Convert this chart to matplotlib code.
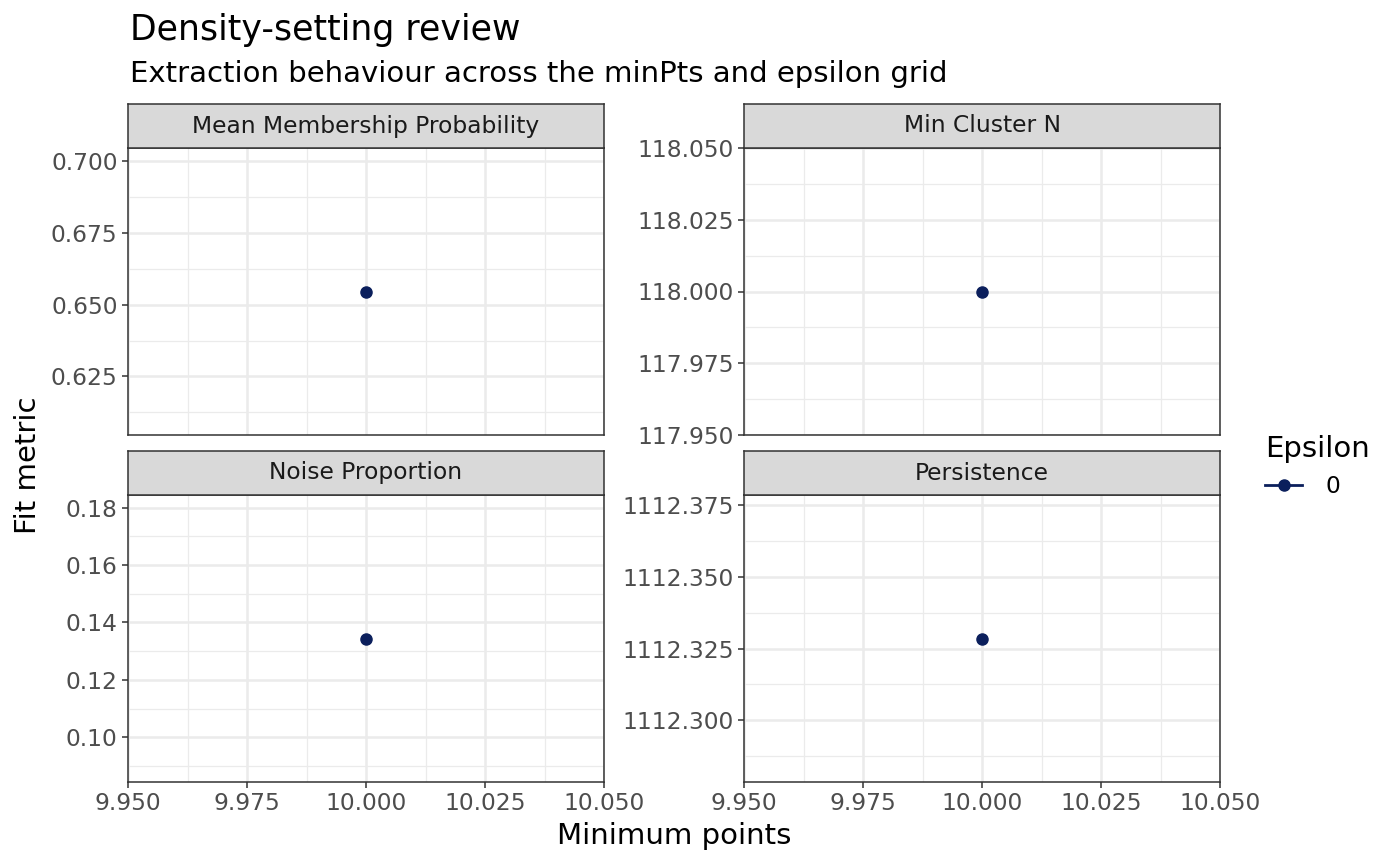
import numpy as np
import matplotlib.pyplot as plt
from matplotlib.lines import Line2D

# data
metrics = ["Mean Membership Probability", "Min Cluster N", "Noise Proportion", "Persistence"]
min_pts = [10.0, 10.0, 10.0, 10.0]
values = [0.6546, 118.0, 0.1344, 1112.3285]
epsilon = ["0"]
y_ticks = [
    [0.625, 0.650, 0.675, 0.700],
    [117.950, 117.975, 118.000, 118.025, 118.050],
    [0.10, 0.12, 0.14, 0.16, 0.18],
    [1112.300, 1112.325, 1112.350, 1112.375],
]
y_fmt = ["%.3f", "%.3f", "%.2f", "%.3f"]
x_ticks = [9.950, 9.975, 10.000, 10.025, 10.050]

W, H = 1400, 866
plt.rcParams['font.family'] = ['DejaVu Sans']
fig = plt.figure(figsize=(W / 100, H / 100), dpi=100)

point_col = "#0b1f5c"
grid_col = "#ebebeb"
border_col = "#333333"
tick_fs = 16.8

def px(x0, y0, x1, y1):
    return [x0 / W, 1 - y1 / H, (x1 - x0) / W, (y1 - y0) / H]

cols = [(128, 604), (744, 1220)]
rows = [(104, 148, 435), (451, 495, 782)]

for i, m in enumerate(metrics):
    r, c = divmod(i, 2)
    sx0, sx1 = cols[c]
    st, pt, pb = rows[r]
    ax = fig.add_axes(px(sx0, pt, sx1, pb))
    v = values[i]
    yt = y_ticks[i]
    ax.set_yticks(yt)
    ax.set_yticklabels([y_fmt[i] % t for t in yt])
    step = yt[1] - yt[0]
    ax.set_yticks(np.arange(yt[0] - step / 2, yt[-1] + step, step), minor=True)
    ax.set_xticks(x_ticks)
    ax.set_xticks(np.arange(9.9625, 10.05, 0.025), minor=True)
    ax.plot(min_pts[i], v, "o", color=point_col, ms=8, zorder=3, clip_on=False)
    ax.set_xlim(9.95, 10.05)
    ax.set_ylim(v - 0.05, v + 0.05)
    ax.grid(True, which="major", color=grid_col, lw=1.8)
    ax.grid(True, which="minor", color=grid_col, lw=0.9)
    ax.set_axisbelow(True)
    ax.tick_params(which="minor", length=0)
    ax.tick_params(which="major", length=4.5, color=border_col, width=1.1,
                   labelsize=tick_fs, labelcolor="#4d4d4d", pad=3)
    if r == 0:
        ax.tick_params(axis="x", which="major", length=0, labelbottom=False)
    else:
        ax.set_xticklabels(["%.3f" % t for t in x_ticks])
    for s in ax.spines.values():
        s.set_color(border_col)
        s.set_linewidth(1.1)

    sax = fig.add_axes(px(sx0, st, sx1, pt))
    sax.set_facecolor("#d9d9d9")
    sax.set_xticks([])
    sax.set_yticks([])
    for s in sax.spines.values():
        s.set_color(border_col)
        s.set_linewidth(1.1)
    sax.text(0.5, 0.5, m, ha="center", va="center", fontsize=tick_fs,
             color="#1a1a1a", transform=sax.transAxes)

fig.text(130 / W, 1 - 30 / H, "Density-setting review", fontsize=25, va="center", ha="left")
fig.text(130 / W, 1 - 74 / H, "Extraction behaviour across the minPts and epsilon grid",
         fontsize=21, va="center", ha="left")
fig.text(674 / W, 1 - 836 / H, "Minimum points", fontsize=21, ha="center", va="center")
fig.text(28 / W, 1 - 465 / H, "Fit metric", fontsize=21, ha="center", va="center", rotation=90)

handles = [Line2D([0], [0], color=point_col, marker="o", ms=8, lw=2.0, label=e) for e in epsilon]
fig.legend(handles=handles, title="Epsilon", loc="upper left",
           bbox_to_anchor=(1244 / W, 1 - 414 / H), frameon=False, fontsize=tick_fs,
           title_fontsize=21, handlelength=1.6, handletextpad=1.0, alignment="left")

fig.savefig("out.png", dpi=100)
